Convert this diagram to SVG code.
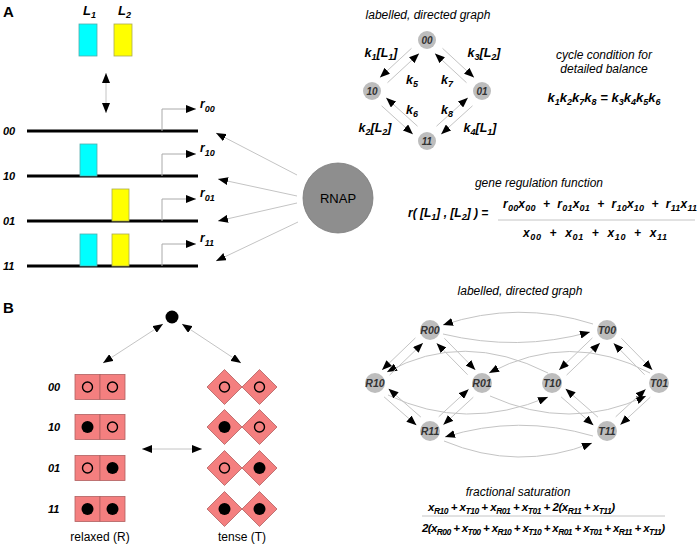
<svg xmlns="http://www.w3.org/2000/svg" width="699" height="550" viewBox="0 0 699 550">
<style>
text{font-family:"Liberation Sans",Arial,sans-serif;fill:#000}
.bi{font-weight:bold;font-style:italic}
.i{font-style:italic}
.pl{font-weight:bold;font-size:15px}
.row{font-weight:bold;font-style:italic;font-size:11px}
.nl{font-weight:bold;font-style:italic;font-size:10px;fill:#333;text-anchor:middle}
.nlb{font-weight:bold;font-style:italic;font-size:10.5px;fill:#333;text-anchor:middle}
.node{fill:#bdbdbd}
.dna{stroke:#000;stroke-width:3}
.prom{fill:none;stroke:#aaa;stroke-width:1}
.e{fill:none;stroke:#c4c4c4;stroke-width:1;marker-end:url(#ah)}
.ed{fill:none;stroke:#c4c4c4;stroke-width:1;marker-end:url(#ah);marker-start:url(#ah)}
.cy{fill:#00ffff;stroke:#55aaaa;stroke-width:0.8}
.ye{fill:#ffff00;stroke:#aaaa55;stroke-width:0.8}
.sal{fill:#f47f7f;stroke:#b06060;stroke-width:0.8}
.oc{fill:none;stroke:#000;stroke-width:1.4}
.fc{fill:#000}
.frac{stroke:#c4c4c4;stroke-width:1}
.t{text-anchor:middle}
</style>
<defs>
<marker id="ah" viewBox="0 0 10 8" refX="10" refY="4" markerWidth="10" markerHeight="8" markerUnits="userSpaceOnUse" orient="auto-start-reverse"><path d="M0,0 L10,4 L0,8 z" fill="#000"/></marker>
</defs>
<rect width="699" height="550" fill="#fff"/>

<!-- Panel A left -->
<g id="panelA-label"><text x="3" y="17" class="pl">A</text></g>
<g id="ligands">
<rect x="79" y="24" width="18" height="32" class="cy"/>
<rect x="114" y="24" width="18" height="32" class="ye"/>
<text x="83" y="15" class="bi" font-size="13">L<tspan dy="3" font-size="9">1</tspan></text>
<text x="118" y="15" class="bi" font-size="13">L<tspan dy="3" font-size="9">2</tspan></text>
</g>
<g id="promoter00">
<line x1="27" y1="131" x2="198" y2="131" class="dna"/>
<text x="3" y="135" class="row">00</text>
<path d="M162,131 V109 H196" class="prom" style="marker-end:url(#ah)"/>
<text x="200" y="108" class="bi" font-size="12">r<tspan dy="4" font-size="9">00</tspan></text>
</g>
<g id="promoter10">
<line x1="27" y1="176" x2="198" y2="176" class="dna"/>
<rect x="80" y="144" width="17" height="32" class="cy"/>
<text x="3" y="180" class="row">10</text>
<path d="M162,176 V154 H196" class="prom" style="marker-end:url(#ah)"/>
<text x="200" y="152" class="bi" font-size="12">r<tspan dy="4" font-size="9">10</tspan></text>
</g>
<g id="promoter01">
<line x1="27" y1="221" x2="198" y2="221" class="dna"/>
<rect x="112" y="189" width="17" height="32" class="ye"/>
<text x="3" y="225" class="row">01</text>
<path d="M162,221 V199 H196" class="prom" style="marker-end:url(#ah)"/>
<text x="200" y="197" class="bi" font-size="12">r<tspan dy="4" font-size="9">01</tspan></text>
</g>
<g id="promoter11">
<line x1="27" y1="266" x2="198" y2="266" class="dna"/>
<rect x="80" y="234" width="17" height="32" class="cy"/>
<rect x="112" y="234" width="17" height="32" class="ye"/>
<text x="3" y="270" class="row">11</text>
<path d="M162,266 V244 H196" class="prom" style="marker-end:url(#ah)"/>
<text x="200" y="242" class="bi" font-size="12">r<tspan dy="4" font-size="9">11</tspan></text>
</g>
<g id="RNAP">
<circle cx="338" cy="198" r="35" fill="#8e8e8e" stroke="#7a7a7a" stroke-width="0.8"/>
<text x="338" y="203" class="t" font-size="13">RNAP</text>
</g>
<g id="connectors-A">
<line x1="106" y1="73" x2="106" y2="113" class="ed" stroke="#aaa"/>
<line x1="297" y1="175" x2="216" y2="133" class="e"/>
<line x1="297" y1="196" x2="218" y2="179" class="e"/>
<line x1="297" y1="203" x2="218" y2="221" class="e"/>
<line x1="298" y1="222" x2="216" y2="261" class="e"/>
</g>

<!-- Panel A top-right graph -->
<g id="graphA-title"><text x="428" y="19" class="i t" font-size="12">labelled, directed graph</text></g>
<g id="nA00"><circle cx="427" cy="40" r="9" class="node"/><text x="427" y="44" class="nl">00</text></g>
<g id="nA10"><circle cx="372" cy="91" r="9" class="node"/><text x="372" y="95" class="nl">10</text></g>
<g id="nA01"><circle cx="482" cy="91" r="9" class="node"/><text x="482" y="95" class="nl">01</text></g>
<g id="nA11"><circle cx="427" cy="141" r="9" class="node"/><text x="427" y="145" class="nl">11</text></g>
<g id="connectors-graphA">
<line x1="411.5" y1="48.3" x2="379.9" y2="77.5" class="e"/>
<line x1="387.5" y1="82.7" x2="419.1" y2="53.5" class="e"/>
<line x1="442.5" y1="48.3" x2="474.1" y2="77.5" class="e"/>
<line x1="466.5" y1="82.7" x2="434.9" y2="53.5" class="e"/>
<line x1="381.6" y1="105.8" x2="412.9" y2="134.2" class="e"/>
<line x1="417.5" y1="126.2" x2="386.1" y2="97.8" class="e"/>
<line x1="472.5" y1="105.8" x2="441.1" y2="134.2" class="e"/>
<line x1="436.5" y1="126.2" x2="467.9" y2="97.8" class="e"/>
</g>
<g id="rate-labels" class="bi" font-size="12.5">
<text x="381" y="57" class="t">k<tspan dy="3" font-size="9">1</tspan><tspan dy="-3">[L</tspan><tspan dy="3" font-size="9">1</tspan><tspan dy="-3">]</tspan></text>
<text x="484" y="57" class="t">k<tspan dy="3" font-size="9">3</tspan><tspan dy="-3">[L</tspan><tspan dy="3" font-size="9">2</tspan><tspan dy="-3">]</tspan></text>
<text x="412" y="84" class="t">k<tspan dy="3" font-size="9">5</tspan></text>
<text x="447" y="84" class="t">k<tspan dy="3" font-size="9">7</tspan></text>
<text x="412" y="114" class="t">k<tspan dy="3" font-size="9">6</tspan></text>
<text x="447" y="114" class="t">k<tspan dy="3" font-size="9">8</tspan></text>
<text x="375" y="132" class="t">k<tspan dy="3" font-size="9">2</tspan><tspan dy="-3">[L</tspan><tspan dy="3" font-size="9">2</tspan><tspan dy="-3">]</tspan></text>
<text x="480" y="132" class="t">k<tspan dy="3" font-size="9">4</tspan><tspan dy="-3">[L</tspan><tspan dy="3" font-size="9">1</tspan><tspan dy="-3">]</tspan></text>
</g>
<g id="cycle-condition">
<text x="604" y="59" class="i t" font-size="12">cycle condition for</text>
<text x="604" y="73" class="i t" font-size="12">detailed balance</text>
<text x="604" y="102" class="bi t" font-size="13">k<tspan dy="3" font-size="9">1</tspan><tspan dy="-3">k</tspan><tspan dy="3" font-size="9">2</tspan><tspan dy="-3">k</tspan><tspan dy="3" font-size="9">7</tspan><tspan dy="-3">k</tspan><tspan dy="3" font-size="9">8</tspan><tspan dy="-3"> = k</tspan><tspan dy="3" font-size="9">3</tspan><tspan dy="-3">k</tspan><tspan dy="3" font-size="9">4</tspan><tspan dy="-3">k</tspan><tspan dy="3" font-size="9">5</tspan><tspan dy="-3">k</tspan><tspan dy="3" font-size="9">6</tspan></text>
</g>
<g id="gene-regulation-function">
<text x="539" y="187" class="i t" font-size="12">gene regulation function</text>
<text x="408" y="217" class="bi" font-size="12">r( [L<tspan dy="3" font-size="9">1</tspan><tspan dy="-3">] , [L</tspan><tspan dy="3" font-size="9">2</tspan><tspan dy="-3">] )  =</tspan></text>
<text x="503" y="208" class="bi" font-size="12" xml:space="preserve" textLength="194">r<tspan dy="3" font-size="9">00</tspan><tspan dy="-3">x</tspan><tspan dy="3" font-size="9">00</tspan><tspan dy="-3">  +  r</tspan><tspan dy="3" font-size="9">01</tspan><tspan dy="-3">x</tspan><tspan dy="3" font-size="9">01</tspan><tspan dy="-3">  +  r</tspan><tspan dy="3" font-size="9">10</tspan><tspan dy="-3">x</tspan><tspan dy="3" font-size="9">10</tspan><tspan dy="-3">  +  r</tspan><tspan dy="3" font-size="9">11</tspan><tspan dy="-3">x</tspan><tspan dy="3" font-size="9">11</tspan></text>
<line x1="498" y1="220" x2="695" y2="220" class="frac"/>
<text x="523" y="237" class="bi" font-size="12" xml:space="preserve" textLength="144">x<tspan dy="3" font-size="9">00</tspan><tspan dy="-3">  +  x</tspan><tspan dy="3" font-size="9">01</tspan><tspan dy="-3">  +  x</tspan><tspan dy="3" font-size="9">10</tspan><tspan dy="-3">  +  x</tspan><tspan dy="3" font-size="9">11</tspan></text>
</g>

<!-- Panel B left -->
<g id="panelB-label"><text x="3" y="313" class="pl">B</text></g>
<g id="ligand-dot"><circle cx="172" cy="317" r="6.5" fill="#000"/></g>
<g id="connectors-B-left">
<line x1="163" y1="324" x2="103" y2="363" class="ed"/>
<line x1="182" y1="324" x2="241" y2="363" class="ed"/>
<line x1="142" y1="449" x2="202" y2="449" class="ed"/>
</g>
<g id="relaxed">
<text x="48" y="391" class="row" font-size="10.5">00</text>
<rect x="75" y="374.5" width="25" height="25" class="sal"/><rect x="100" y="374.5" width="25" height="25" class="sal"/>
<circle cx="87.5" cy="387" r="5" class="oc"/><circle cx="112.5" cy="387" r="5" class="oc"/>
<text x="48" y="431" class="row" font-size="10.5">10</text>
<rect x="75" y="414.5" width="25" height="25" class="sal"/><rect x="100" y="414.5" width="25" height="25" class="sal"/>
<circle cx="87.5" cy="427" r="6" class="fc"/><circle cx="112.5" cy="427" r="5" class="oc"/>
<text x="48" y="472" class="row" font-size="10.5">01</text>
<rect x="75" y="455.5" width="25" height="25" class="sal"/><rect x="100" y="455.5" width="25" height="25" class="sal"/>
<circle cx="87.5" cy="468" r="5" class="oc"/><circle cx="112.5" cy="468" r="6" class="fc"/>
<text x="48" y="513" class="row" font-size="10.5">11</text>
<rect x="75" y="496.5" width="25" height="25" class="sal"/><rect x="100" y="496.5" width="25" height="25" class="sal"/>
<circle cx="87.5" cy="509" r="6" class="fc"/><circle cx="112.5" cy="509" r="6" class="fc"/>
<text x="100" y="541" class="t" font-size="12">relaxed (R)</text>
</g>
<g id="tense">
<polygon points="207,387 224.5,369.5 242,387 224.5,404.5" class="sal"/><polygon points="242,387 259.5,369.5 277,387 259.5,404.5" class="sal"/>
<circle cx="224.5" cy="387" r="5" class="oc"/><circle cx="259.5" cy="387" r="5" class="oc"/>
<polygon points="207,427 224.5,409.5 242,427 224.5,444.5" class="sal"/><polygon points="242,427 259.5,409.5 277,427 259.5,444.5" class="sal"/>
<circle cx="224.5" cy="427" r="6" class="fc"/><circle cx="259.5" cy="427" r="5" class="oc"/>
<polygon points="207,468 224.5,450.5 242,468 224.5,485.5" class="sal"/><polygon points="242,468 259.5,450.5 277,468 259.5,485.5" class="sal"/>
<circle cx="224.5" cy="468" r="5" class="oc"/><circle cx="259.5" cy="468" r="6" class="fc"/>
<polygon points="207,509 224.5,491.5 242,509 224.5,526.5" class="sal"/><polygon points="242,509 259.5,491.5 277,509 259.5,526.5" class="sal"/>
<circle cx="224.5" cy="509" r="6" class="fc"/><circle cx="259.5" cy="509" r="6" class="fc"/>
<text x="242" y="541" class="t" font-size="12">tense (T)</text>
</g>

<!-- Panel B right graph -->
<g id="graphB-title"><text x="520" y="295" class="i t" font-size="12">labelled, directed graph</text></g>
<g id="connectors-graphB">
<path d="M593,324 Q518,300 443,325" class="e"/>
<path d="M443,334 Q518,352 590,332" class="e"/>
<path d="M593,436 Q518,414 445,437" class="e"/>
<path d="M444,441 Q518,472 592,443" class="e"/>
<path d="M548,373 Q463,330 387,372" class="e"/>
<path d="M650,373 Q570,330 489,373" class="e"/>
<path d="M388,395 Q465,432 548,397" class="e"/>
<path d="M490,396 Q570,432 646,396" class="e"/>
<line x1="415.4" y1="337.9" x2="382.0" y2="370.0" class="e"/>
<line x1="389.6" y1="375.1" x2="423.0" y2="343.0" class="e"/>
<line x1="444.4" y1="338.3" x2="475.4" y2="369.9" class="e"/>
<line x1="467.6" y1="374.7" x2="436.6" y2="343.2" class="e"/>
<line x1="592.4" y1="337.9" x2="559.0" y2="370.0" class="e"/>
<line x1="566.6" y1="375.1" x2="600.0" y2="343.0" class="e"/>
<line x1="621.4" y1="338.3" x2="652.4" y2="369.9" class="e"/>
<line x1="644.6" y1="374.7" x2="613.6" y2="343.2" class="e"/>
<line x1="384.1" y1="396.9" x2="416.5" y2="425.2" class="e"/>
<line x1="420.9" y1="417.1" x2="388.5" y2="388.8" class="e"/>
<line x1="473.3" y1="397.2" x2="443.3" y2="424.8" class="e"/>
<line x1="438.7" y1="416.8" x2="468.7" y2="389.2" class="e"/>
<line x1="561.1" y1="396.9" x2="593.5" y2="425.2" class="e"/>
<line x1="597.9" y1="417.1" x2="565.5" y2="388.8" class="e"/>
<line x1="650.3" y1="397.2" x2="620.3" y2="424.8" class="e"/>
<line x1="615.7" y1="416.8" x2="645.7" y2="389.2" class="e"/>
</g>
<g id="nR00"><circle cx="430" cy="330" r="10" class="node"/><text x="430" y="334" class="nlb">R00</text></g>
<g id="nT00"><circle cx="607" cy="330" r="10" class="node"/><text x="607" y="334" class="nlb">T00</text></g>
<g id="nR10"><circle cx="375" cy="383" r="10" class="node"/><text x="375" y="387" class="nlb">R10</text></g>
<g id="nR01"><circle cx="482" cy="383" r="10" class="node"/><text x="482" y="387" class="nlb">R01</text></g>
<g id="nT10"><circle cx="552" cy="383" r="10" class="node"/><text x="552" y="387" class="nlb">T10</text></g>
<g id="nT01"><circle cx="659" cy="383" r="10" class="node"/><text x="659" y="387" class="nlb">T01</text></g>
<g id="nR11"><circle cx="430" cy="431" r="10" class="node"/><text x="430" y="435" class="nlb">R11</text></g>
<g id="nT11"><circle cx="607" cy="431" r="10" class="node"/><text x="607" y="435" class="nlb">T11</text></g>
<g id="fractional-saturation">
<text x="518" y="496" class="i t" font-size="12">fractional saturation</text>
<text x="428" y="511" class="bi" font-size="11.5" textLength="187">x<tspan dy="3" font-size="8.5">R10</tspan><tspan dy="-3"> + x</tspan><tspan dy="3" font-size="8.5">T10</tspan><tspan dy="-3"> + x</tspan><tspan dy="3" font-size="8.5">R01</tspan><tspan dy="-3"> + x</tspan><tspan dy="3" font-size="8.5">T01</tspan><tspan dy="-3"> + 2(x</tspan><tspan dy="3" font-size="8.5">R11</tspan><tspan dy="-3"> + x</tspan><tspan dy="3" font-size="8.5">T11</tspan><tspan dy="-3">)</tspan></text>
<line x1="422" y1="516" x2="665" y2="516" class="frac"/>
<text x="422" y="532" class="bi" font-size="11.5" textLength="243">2(x<tspan dy="3" font-size="8.5">R00</tspan><tspan dy="-3"> + x</tspan><tspan dy="3" font-size="8.5">T00</tspan><tspan dy="-3"> + x</tspan><tspan dy="3" font-size="8.5">R10</tspan><tspan dy="-3"> + x</tspan><tspan dy="3" font-size="8.5">T10</tspan><tspan dy="-3"> + x</tspan><tspan dy="3" font-size="8.5">R01</tspan><tspan dy="-3"> + x</tspan><tspan dy="3" font-size="8.5">T01</tspan><tspan dy="-3"> + x</tspan><tspan dy="3" font-size="8.5">R11</tspan><tspan dy="-3"> + x</tspan><tspan dy="3" font-size="8.5">T11</tspan><tspan dy="-3">)</tspan></text>
</g>
</svg>
